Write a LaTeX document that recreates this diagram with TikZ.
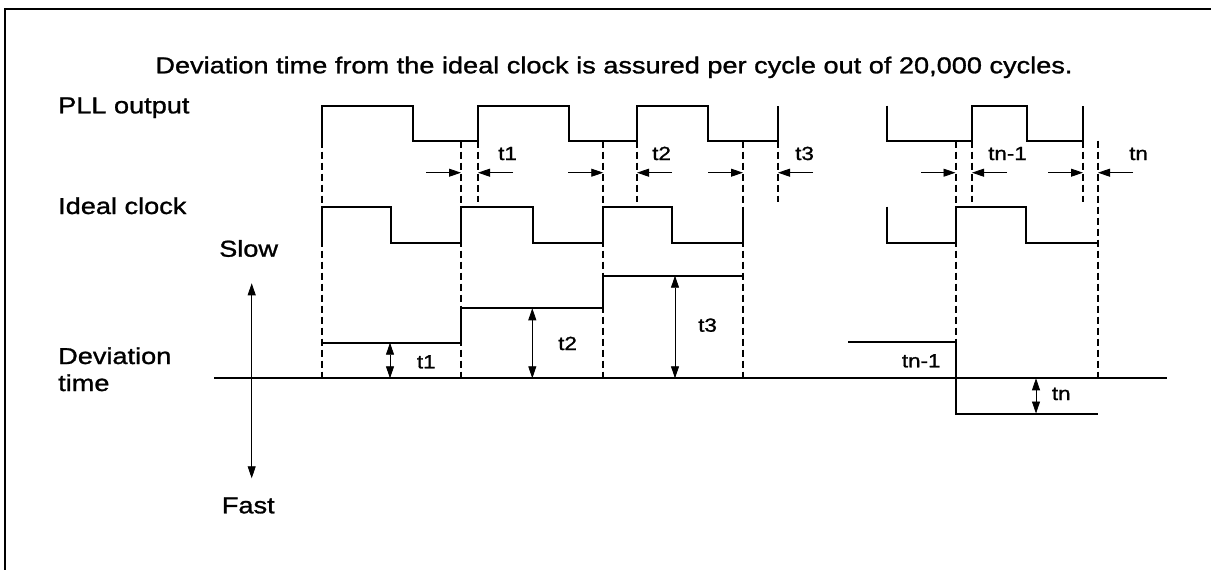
\documentclass[tikz,border=0pt]{standalone}
\usepackage{fontspec}
\setmainfont{Liberation Sans}[FakeStretch=1.18,FakeBold=1.2]
\usetikzlibrary{arrows.meta}
\tikzset{
  wave/.style={line width=2pt,line join=miter},
  guide/.style={line width=2pt,dash pattern=on 7pt off 4pt},
  pointer/.style={line width=0.8pt,-{Triangle[length=12pt,width=8pt]}},
  span/.style={line width=0.8pt,{Triangle[length=12pt,width=8pt]}-{Triangle[length=12pt,width=8pt]}},
  lbl/.style={font=\fontsize{23}{27}\selectfont,inner sep=0pt,anchor=base west},
  tlbl/.style={font=\fontsize{19}{23}\selectfont,inner sep=0pt,anchor=base west}
}
\begin{document}
\begin{tikzpicture}[x=1pt,y=-1pt]
  \useasboundingbox (0,0) rectangle (1211,570);
  \draw[line width=2pt] (4.5,570) -- (4.5,8.5) -- (1211,8.5);
  \node[lbl,anchor=base] (title) at (614,73.3) {Deviation time from the ideal clock is assured per cycle out of 20,000 cycles.};
  \node[lbl] (pll) at (58,113.3) {PLL output};
  \node[lbl] (ideal) at (58,214) {Ideal clock};
  \node[lbl] (slow) at (219,256.7) {Slow};
  \node[lbl] (dev) at (58,364) {Deviation};
  \node[lbl] (time) at (58,391) {time};
  \node[lbl] (fast) at (221.7,513.3) {Fast};
  \draw[wave] (321.7,140.7) |- (413,105.7) |- (478,140.7) |- (569,105.7)
    |- (637,140.7) |- (708,105.7) |- (778,140.7) -- (778,105.7);
  \draw[wave] (887,105.7) |- (972,140.7) |- (1027,105.7) |- (1083,140.7) -- (1083,105.7);
  \draw[wave] (321.7,242.7) |- (391,206.7) |- (461,242.7) |- (533,206.7)
    |- (603.3,242.7) |- (672,206.7) |- (743,242.7) -- (743,206.7);
  \draw[wave] (887,206.7) |- (956,242.7) |- (1026,206.7) |- (1098,242.7);
  \draw[wave] (214,378.3) -- (1167,378.3);
  \draw[wave] (321.7,342.7) -| (461,308.3) -| (603.3,275.7) -- (743,275.7);
  \draw[wave] (848,341.7) -| (955.5,413.5) -- (1098,413.5);
  \foreach \x/\y in {321.7/378.3,461/378.3,478/202,603.3/378.3,637/202,743/378.3,
                     778/202,955.5/341.7,972/202,1083/202,1098/378.3}
    \draw[guide] (\x,140.7) -- (\x,\y);
  \foreach \a/\b in {426/461,513/478,568/603.3,672/637,708/743,813/778,
                     921/955.5,1007/972,1048/1083,1133/1098}
    \draw[pointer] (\a,172.7) -- (\b,172.7);
  \draw[span] (390,342.7) -- (390,378.3);
  \draw[span] (532.3,308.3) -- (532.3,378.3);
  \draw[span] (675,275.7) -- (675,378.3);
  \draw[span] (1036,378.3) -- (1036,413.5);
  \draw[span] (251.7,283.3) -- (251.7,478.3);
  \node[tlbl] (a1) at (498,160) {t1};
  \node[tlbl] (a2) at (652,160) {t2};
  \node[tlbl] (a3) at (795,160) {t3};
  \node[tlbl] (an1) at (988,160) {tn-1};
  \node[tlbl] (an) at (1129,160) {tn};
  \node[tlbl] (b1) at (416.7,368.3) {t1};
  \node[tlbl] (b2) at (558,350) {t2};
  \node[tlbl] (b3) at (698,331.7) {t3};
  \node[tlbl] (bn1) at (901.7,367.3) {tn-1};
  \node[tlbl] (bn) at (1051.7,400) {tn};
\end{tikzpicture}
\end{document}
